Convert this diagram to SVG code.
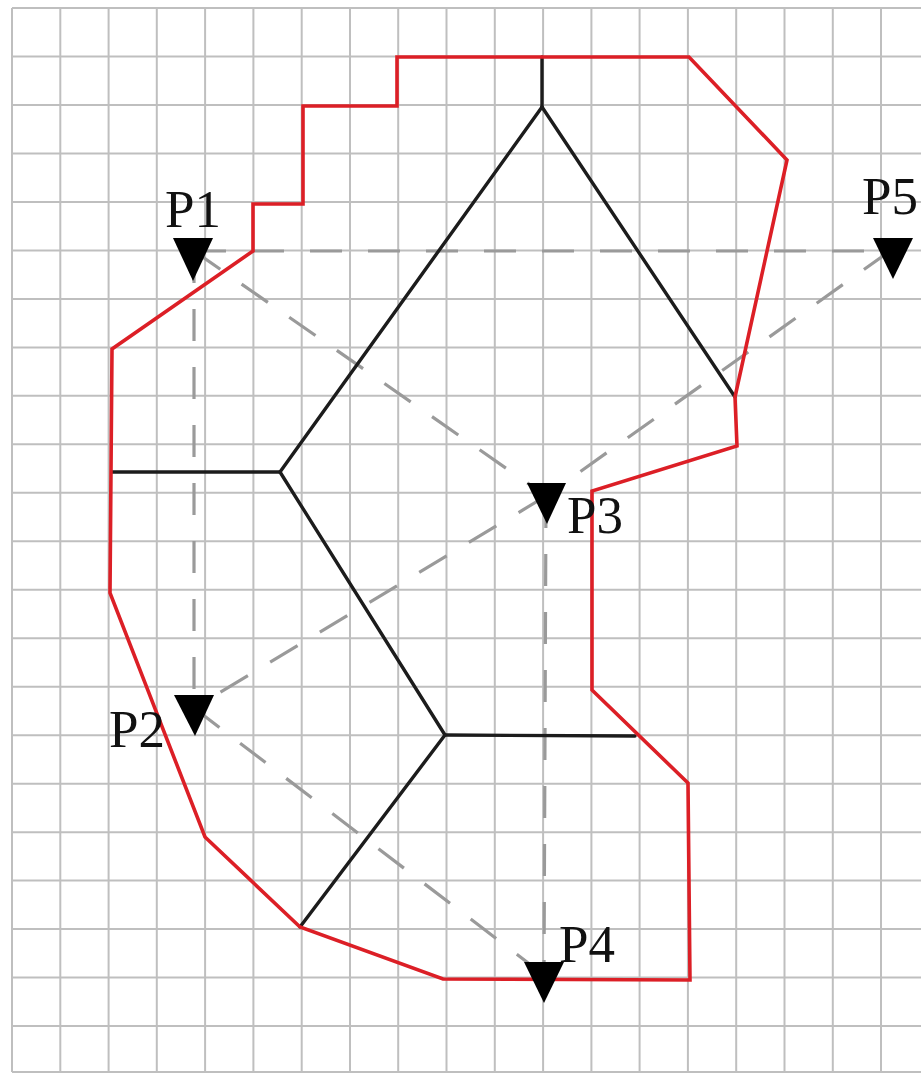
<svg xmlns="http://www.w3.org/2000/svg" width="921" height="1074" viewBox="0 0 921 1074">
<style>
.grid line{stroke:#bfbfbf;stroke-width:2}
.dash{stroke:#9a9a9a;stroke-width:3.2;stroke-dasharray:32 26;fill:none}
.vor{stroke:#1c1c1c;stroke-width:3.4;fill:none;stroke-linecap:round}
.bound{stroke:#dc1f26;stroke-width:3.6;fill:none;stroke-linejoin:miter}
.tri{fill:#000}
.lbl{font-family:"Liberation Serif","Times New Roman",serif;font-size:53px;fill:#111}
</style>
<rect width="921" height="1074" fill="#fff"/>
<g class="grid" id="grid">
<line x1="12" y1="8" x2="12" y2="1072"/>
<line x1="60.3" y1="8" x2="60.3" y2="1072"/>
<line x1="108.6" y1="8" x2="108.6" y2="1072"/>
<line x1="156.8" y1="8" x2="156.8" y2="1072"/>
<line x1="205.1" y1="8" x2="205.1" y2="1072"/>
<line x1="253.4" y1="8" x2="253.4" y2="1072"/>
<line x1="301.7" y1="8" x2="301.7" y2="1072"/>
<line x1="350" y1="8" x2="350" y2="1072"/>
<line x1="398.2" y1="8" x2="398.2" y2="1072"/>
<line x1="446.5" y1="8" x2="446.5" y2="1072"/>
<line x1="494.8" y1="8" x2="494.8" y2="1072"/>
<line x1="543.1" y1="8" x2="543.1" y2="1072"/>
<line x1="591.4" y1="8" x2="591.4" y2="1072"/>
<line x1="639.6" y1="8" x2="639.6" y2="1072"/>
<line x1="687.9" y1="8" x2="687.9" y2="1072"/>
<line x1="736.2" y1="8" x2="736.2" y2="1072"/>
<line x1="784.5" y1="8" x2="784.5" y2="1072"/>
<line x1="832.8" y1="8" x2="832.8" y2="1072"/>
<line x1="881" y1="8" x2="881" y2="1072"/>
<line x1="12" y1="8" x2="921" y2="8"/>
<line x1="12" y1="56.5" x2="921" y2="56.5"/>
<line x1="12" y1="105" x2="921" y2="105"/>
<line x1="12" y1="153.4" x2="921" y2="153.4"/>
<line x1="12" y1="201.9" x2="921" y2="201.9"/>
<line x1="12" y1="250.4" x2="921" y2="250.4"/>
<line x1="12" y1="298.9" x2="921" y2="298.9"/>
<line x1="12" y1="347.4" x2="921" y2="347.4"/>
<line x1="12" y1="395.8" x2="921" y2="395.8"/>
<line x1="12" y1="444.3" x2="921" y2="444.3"/>
<line x1="12" y1="492.8" x2="921" y2="492.8"/>
<line x1="12" y1="541.3" x2="921" y2="541.3"/>
<line x1="12" y1="589.8" x2="921" y2="589.8"/>
<line x1="12" y1="638.2" x2="921" y2="638.2"/>
<line x1="12" y1="686.7" x2="921" y2="686.7"/>
<line x1="12" y1="735.2" x2="921" y2="735.2"/>
<line x1="12" y1="783.7" x2="921" y2="783.7"/>
<line x1="12" y1="832.2" x2="921" y2="832.2"/>
<line x1="12" y1="880.6" x2="921" y2="880.6"/>
<line x1="12" y1="929.1" x2="921" y2="929.1"/>
<line x1="12" y1="977.6" x2="921" y2="977.6"/>
<line x1="12" y1="1026.1" x2="921" y2="1026.1"/>
<line x1="12" y1="1072" x2="921" y2="1072"/>
</g>
<g id="connectors">
<line class="dash" x1="194" y1="251" x2="890" y2="251"/>
<line class="dash" x1="194" y1="251" x2="194" y2="708"/>
<line class="dash" x1="194" y1="251" x2="546" y2="496"/>
<line class="dash" x1="890" y1="251" x2="546" y2="496"/>
<line class="dash" x1="546" y1="496" x2="194" y2="708"/>
<line class="dash" x1="546" y1="496" x2="544" y2="975"/>
<line class="dash" x1="194" y1="708" x2="544" y2="975"/>
</g>
<g id="voronoi">
<line class="vor" x1="542" y1="57" x2="542" y2="107"/>
<line class="vor" x1="542" y1="107" x2="280" y2="472"/>
<line class="vor" x1="542" y1="107" x2="735" y2="397"/>
<line class="vor" x1="112" y1="472" x2="280" y2="472"/>
<line class="vor" x1="280" y1="472" x2="445" y2="735"/>
<line class="vor" x1="445" y1="735" x2="635" y2="736"/>
<line class="vor" x1="445" y1="735" x2="300" y2="927"/>
</g>
<g id="boundary">
<polygon class="bound" points="397,57 689,57 787,160 735,397 737,446 592,491 592,690 688,783 690,980 443,979 300,927 205,837 110,593 112,349 253,251 253,204 303,204 303,106 397,106"/>
</g>
<g id="P1"><polygon class="tri" points="173,238 213,238 193,281"/><text class="lbl" x="165" y="227">P1</text></g>
<g id="P2"><polygon class="tri" points="174,695 214,695 195,736"/><text class="lbl" x="109" y="747">P2</text></g>
<g id="P3"><polygon class="tri" points="527,483 566,483 547,524"/><text class="lbl" x="567" y="533">P3</text></g>
<g id="P4"><polygon class="tri" points="524,962 564,962 544,1003"/><text class="lbl" x="559" y="962">P4</text></g>
<g id="P5"><polygon class="tri" points="873,238 913,238 893,279"/><text class="lbl" x="862" y="214">P5</text></g>
</svg>
